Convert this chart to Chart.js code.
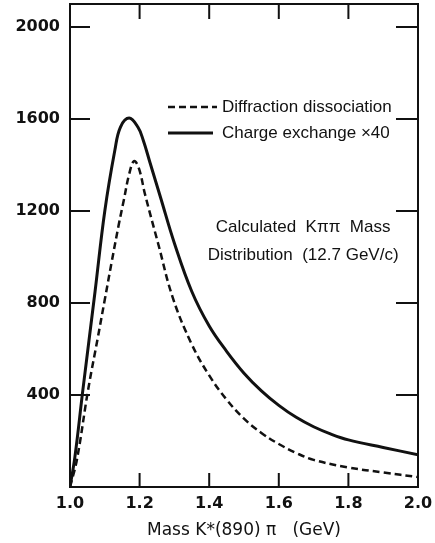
<!DOCTYPE html>
<html>
<head>
<meta charset="utf-8">
<script src="https://cdn.jsdelivr.net/npm/chart.js@4.4.1/dist/chart.umd.min.js"></script>
<style>
html,body{margin:0;padding:0;background:#fff;}
#wrap{width:435px;height:543px;}
</style>
</head>
<body>
<div id="wrap"><canvas id="c" width="435" height="543"></canvas></div>
<script>
// ---- data ----
const diffMass   = [1.00, 1.020, 1.052, 1.08, 1.10, 1.12, 1.14, 1.155, 1.17, 1.184, 1.198, 1.216, 1.253, 1.296, 1.35, 1.40, 1.45, 1.50, 1.55, 1.60, 1.65, 1.70, 1.80, 1.90, 2.00];
const diffCounts = [0,    120,   422,   650,  815,  980,  1140, 1250,  1360, 1417,  1385,  1270,  1060,  820,   620,  485,  380,  297,  235,  187,  148,  118,  85,   63,   43];

const chargeMass   = [1.00, 1.014, 1.037, 1.072, 1.10, 1.129, 1.145, 1.17, 1.195, 1.21, 1.23, 1.26, 1.30, 1.35, 1.40, 1.45, 1.50, 1.55, 1.60, 1.65, 1.70, 1.75, 1.80, 1.90, 2.00];
const chargeCounts = [0,    130,   422,   850,   1200, 1465,  1565,  1604, 1565,  1510, 1410, 1260, 1060, 850,  700,  590,  495,  418,  355,  303,  262,  230,  205,  172,  140];

const xTickValues = [1.0, 1.2, 1.4, 1.6, 1.8, 2.0];
const yTickValues = [400, 800, 1200, 1600, 2000];

const seriesLabels = ['Diffraction dissociation', 'Charge exchange \u00d740'];
const noteLines = ['Calculated  K\u03c0\u03c0  Mass', 'Distribution  (12.7 GeV/c)'];
const xTitle = 'Mass K*(890) \u03c0   (GeV)';

const INK = '#111111';

const decorPlugin = {
  id: 'decor',
  afterDraw(chart) {
    const {ctx, chartArea: a, scales: {x, y}} = chart;
    ctx.save();
    ctx.strokeStyle = INK;
    ctx.lineWidth = 2;
    ctx.strokeRect(a.left, a.top, a.right - a.left, a.bottom - a.top);
    ctx.beginPath();
    xTickValues.forEach(v => {
      if (v <= x.min || v >= x.max) return;
      const px = x.getPixelForValue(v);
      ctx.moveTo(px, a.bottom); ctx.lineTo(px, a.bottom - 14);
      ctx.moveTo(px, a.top); ctx.lineTo(px, a.top + 15);
    });
    yTickValues.forEach(v => {
      const py = y.getPixelForValue(v);
      ctx.moveTo(a.left, py); ctx.lineTo(a.left + 20, py);
      ctx.moveTo(a.right, py); ctx.lineTo(a.right - 22, py);
    });
    ctx.stroke();

    // legend
    ctx.font = '17px "Liberation Sans"';
    ctx.fillStyle = INK;
    ctx.textBaseline = 'middle';
    ctx.textAlign = 'left';
    const ds = chart.data.datasets;
    const lx0 = a.left + 98;
    const rows = [a.top + 103, a.top + 129];
    ds.forEach((d, i) => {
      const ly = rows[i];
      ctx.beginPath();
      ctx.lineWidth = d.borderWidth;
      ctx.setLineDash(d.borderDash || []);
      ctx.moveTo(lx0, ly);
      ctx.lineTo(lx0 + (i === 0 ? 49 : 45), ly);
      ctx.stroke();
      ctx.setLineDash([]);
      ctx.fillText(d.label, lx0 + 54, ly);
    });

    // note
    ctx.textAlign = 'center';
    const nx = x.getPixelForValue(1.67);
    ctx.fillText(noteLines[0], nx, y.getPixelForValue(1130));
    ctx.fillText(noteLines[1], nx, y.getPixelForValue(1009));
    ctx.restore();
  }
};

new Chart(document.getElementById('c'), {
  type: 'line',
  data: {
    datasets: [
      {
        label: seriesLabels[0],
        data: diffMass.map((m, i) => ({x: m, y: diffCounts[i]})),
        borderColor: INK,
        borderWidth: 2.5,
        borderDash: [7, 4],
        pointRadius: 0,
        fill: false,
        tension: 0.4
      },
      {
        label: seriesLabels[1],
        data: chargeMass.map((m, i) => ({x: m, y: chargeCounts[i]})),
        borderColor: INK,
        borderWidth: 3,
        pointRadius: 0,
        fill: false,
        tension: 0.4
      }
    ]
  },
  options: {
    responsive: false,
    animation: false,
    devicePixelRatio: 1,
    layout: {padding: {top: 4, right: 17, left: 0, bottom: 0}},
    plugins: {legend: {display: false}, tooltip: {enabled: false}},
    scales: {
      x: {
        type: 'linear',
        min: 1.0,
        max: 2.0,
        afterBuildTicks: s => { s.ticks = xTickValues.map(v => ({value: v})); },
        afterFit: s => { s.height = 56; s.paddingLeft = 0; s.paddingRight = 0; },
        grid: {display: false, drawTicks: false},
        border: {display: false},
        ticks: {
          padding: 7,
          color: INK,
          font: {family: 'DejaVu Sans', size: 16, weight: 'bold'},
          callback: v => Number(v).toFixed(1),
          maxRotation: 0
        },
        title: {
          display: true,
          text: xTitle,
          color: INK,
          font: {family: 'DejaVu Sans', size: 17},
          padding: {top: 2, bottom: 2}
        }
      },
      y: {
        type: 'linear',
        min: 0,
        max: 2100,
        afterBuildTicks: s => { s.ticks = yTickValues.map(v => ({value: v})); },
        afterFit: s => { s.width = 70; s.paddingTop = 0; s.paddingBottom = 0; },
        grid: {display: false, drawTicks: false},
        border: {display: false},
        ticks: {
          padding: 10,
          color: INK,
          font: {family: 'DejaVu Sans', size: 16, weight: 'bold'},
          callback: v => String(v)
        }
      }
    }
  },
  plugins: [decorPlugin]
});
</script>
</body>
</html>
